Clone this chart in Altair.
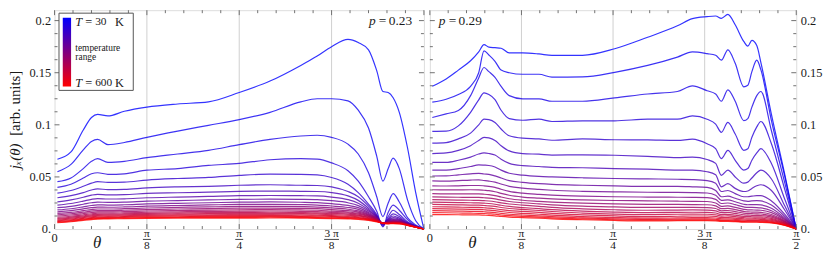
import altair as alt
import pandas as pd

# ---------------- data ----------------
TEMPS = [30, 57, 84, 111, 139, 166, 193, 220, 247, 274, 301,
         329, 356, 383, 410, 437, 464, 491, 519, 546, 573, 600]

# angles in degrees (90 deg = pi/2)
THETA_L = [0.7, 4, 7, 9, 10.5, 13, 17, 22.5, 30, 37.5, 45, 52.5, 60, 64,
           67.5, 71.5, 74, 76.5, 78.5, 80, 81.3, 82.5, 84, 86, 88, 90]

J_L = [
    [0.067, 0.074, 0.095, 0.107, 0.110, 0.1085, 0.113, 0.117, 0.120, 0.122, 0.131, 0.142, 0.157, 0.166, 0.175, 0.182, 0.179, 0.172, 0.152, 0.132, 0.131, 0.126, 0.112, 0.078, 0.035, 0.0],
    [0.055, 0.062, 0.076, 0.084, 0.086, 0.081, 0.083, 0.088, 0.094, 0.0995, 0.105, 0.112, 0.122, 0.125, 0.125, 0.123, 0.114, 0.097, 0.070, 0.046, 0.058, 0.068, 0.058, 0.028, 0.008, 0.0],
    [0.0455, 0.049, 0.058, 0.065, 0.0675, 0.064, 0.065, 0.0685, 0.072, 0.0755, 0.081, 0.086, 0.0893, 0.090, 0.088, 0.0815, 0.072, 0.054, 0.031, 0.012, 0.025, 0.034, 0.026, 0.011, 0.004, 0.0],
    [0.040, 0.043, 0.049, 0.053, 0.054, 0.0525, 0.053, 0.0565, 0.058, 0.061, 0.063, 0.0665, 0.0675, 0.067, 0.0635, 0.056, 0.046, 0.031, 0.017, 0.002, 0.016, 0.023, 0.018, 0.009, 0.003, 0.0],
    [0.0345, 0.037, 0.041, 0.044, 0.0455, 0.0448, 0.045, 0.047, 0.0485, 0.0495, 0.0515, 0.0527, 0.0525, 0.052, 0.0495, 0.043, 0.035, 0.024, 0.014, 0.003, 0.012, 0.018, 0.014, 0.007, 0.003, 0.0],
    [0.030, 0.032, 0.035, 0.0375, 0.0385, 0.0378, 0.038, 0.0395, 0.0405, 0.041, 0.042, 0.0425, 0.042, 0.0418, 0.0405, 0.036, 0.031, 0.022, 0.013, 0.004, 0.010, 0.0145, 0.012, 0.0062, 0.0028, 0.0],
    [0.026, 0.028, 0.0305, 0.0325, 0.0333, 0.0328, 0.033, 0.0342, 0.0348, 0.0354, 0.0361, 0.0364, 0.0362, 0.036, 0.035, 0.0318, 0.0275, 0.020, 0.0125, 0.0045, 0.009, 0.0125, 0.0105, 0.0058, 0.0026, 0.0],
    [0.023, 0.0245, 0.0268, 0.0285, 0.0292, 0.0288, 0.029, 0.030, 0.0307, 0.0313, 0.032, 0.0322, 0.032, 0.0318, 0.0307, 0.0282, 0.0248, 0.0185, 0.012, 0.005, 0.0085, 0.011, 0.0095, 0.0055, 0.0025, 0.0],
    [0.0205, 0.0218, 0.0238, 0.0252, 0.0258, 0.0256, 0.0258, 0.0267, 0.0273, 0.0279, 0.0285, 0.0287, 0.0285, 0.0282, 0.0272, 0.0252, 0.0225, 0.0172, 0.0115, 0.0052, 0.008, 0.0098, 0.0088, 0.0052, 0.0024, 0.0],
    [0.0183, 0.0195, 0.0213, 0.0226, 0.0232, 0.023, 0.0233, 0.0241, 0.0247, 0.0252, 0.0258, 0.026, 0.0257, 0.0253, 0.0243, 0.0227, 0.0205, 0.016, 0.011, 0.0054, 0.0076, 0.009, 0.0082, 0.005, 0.0023, 0.0],
    [0.0165, 0.0176, 0.0193, 0.0205, 0.021, 0.0209, 0.0212, 0.022, 0.0226, 0.0231, 0.0236, 0.0237, 0.0234, 0.023, 0.0221, 0.0207, 0.0189, 0.015, 0.0105, 0.0055, 0.0072, 0.0084, 0.0077, 0.0048, 0.0022, 0.0],
    [0.015, 0.016, 0.0176, 0.0187, 0.0192, 0.0192, 0.0195, 0.0202, 0.0208, 0.0213, 0.0217, 0.0218, 0.0215, 0.0211, 0.0203, 0.019, 0.0175, 0.0141, 0.0101, 0.0056, 0.0069, 0.0079, 0.0073, 0.0046, 0.0021, 0.0],
    [0.0137, 0.0147, 0.0162, 0.0172, 0.0177, 0.0177, 0.018, 0.0187, 0.0192, 0.0196, 0.020, 0.0201, 0.0198, 0.0195, 0.0187, 0.0176, 0.0163, 0.0133, 0.0097, 0.0057, 0.0066, 0.0075, 0.007, 0.0045, 0.0021, 0.0],
    [0.0125, 0.0135, 0.0149, 0.0159, 0.0164, 0.0164, 0.0167, 0.0173, 0.0178, 0.0182, 0.0185, 0.0186, 0.0183, 0.018, 0.0172, 0.0163, 0.0152, 0.0126, 0.0093, 0.0057, 0.0064, 0.0071, 0.0067, 0.0043, 0.002, 0.0],
    [0.0113, 0.0123, 0.0137, 0.0147, 0.0152, 0.0152, 0.0155, 0.0161, 0.0166, 0.0169, 0.0172, 0.0173, 0.017, 0.0167, 0.016, 0.0152, 0.0143, 0.012, 0.009, 0.0057, 0.0062, 0.0068, 0.0064, 0.0042, 0.002, 0.0],
    [0.0103, 0.0113, 0.0127, 0.0136, 0.0141, 0.0142, 0.0145, 0.015, 0.0155, 0.0158, 0.016, 0.0161, 0.0158, 0.0155, 0.0149, 0.0142, 0.0134, 0.0114, 0.0087, 0.0057, 0.006, 0.0065, 0.0062, 0.0041, 0.0019, 0.0],
    [0.0094, 0.0104, 0.0118, 0.0127, 0.0132, 0.0133, 0.0136, 0.0141, 0.0145, 0.0148, 0.015, 0.015, 0.0148, 0.0145, 0.0139, 0.0133, 0.0126, 0.0108, 0.0084, 0.0057, 0.0058, 0.0062, 0.006, 0.004, 0.0019, 0.0],
    [0.0086, 0.0096, 0.011, 0.0118, 0.0123, 0.0124, 0.0127, 0.0131, 0.0135, 0.0137, 0.0138, 0.0139, 0.0137, 0.0134, 0.0129, 0.0124, 0.0118, 0.0102, 0.0081, 0.0057, 0.0057, 0.006, 0.0058, 0.0039, 0.0018, 0.0],
    [0.0079, 0.0089, 0.0102, 0.011, 0.0115, 0.0116, 0.0119, 0.0123, 0.0126, 0.0128, 0.0128, 0.0129, 0.0127, 0.0125, 0.0121, 0.0116, 0.0111, 0.0097, 0.0078, 0.0057, 0.0055, 0.0058, 0.0056, 0.0038, 0.0018, 0.0],
    [0.0072, 0.0082, 0.0095, 0.0103, 0.0108, 0.0109, 0.0112, 0.0116, 0.0118, 0.012, 0.012, 0.0121, 0.0119, 0.0117, 0.0114, 0.0109, 0.0105, 0.0092, 0.0075, 0.0056, 0.0054, 0.0056, 0.0054, 0.0037, 0.0018, 0.0],
    [0.0066, 0.0076, 0.0089, 0.0097, 0.0102, 0.0103, 0.0106, 0.0109, 0.0111, 0.0112, 0.0112, 0.0113, 0.0112, 0.011, 0.0107, 0.0103, 0.0099, 0.0088, 0.0072, 0.0055, 0.0052, 0.0054, 0.0052, 0.0036, 0.0017, 0.0],
    [0.006, 0.007, 0.0083, 0.0091, 0.0096, 0.0097, 0.01, 0.0103, 0.0105, 0.0105, 0.0105, 0.0106, 0.0105, 0.0103, 0.01, 0.0097, 0.0093, 0.0083, 0.0069, 0.0054, 0.005, 0.0052, 0.005, 0.0035, 0.0017, 0.0],
]

THETA_R = [0.6, 4, 7, 10, 12, 13.3, 14.5, 16, 17.5, 19.5, 22.8, 26.8, 30, 37.5,
           45.4, 53.5, 60.8, 64.5, 68.1, 70.2, 71.6, 73.2, 75, 77.1, 78.1, 79.1,
           80.3, 81.3, 83.9, 87.2, 90]

J_R = [
    [0.137, 0.144, 0.1525, 0.1615, 0.170, 0.177, 0.1745, 0.174, 0.1735, 0.169, 0.169, 0.168, 0.1667, 0.1667, 0.173, 0.184, 0.195, 0.2019, 0.2038, 0.2044, 0.2022, 0.206, 0.196, 0.180, 0.1755, 0.181, 0.176, 0.160, 0.110, 0.052, 0.0],
    [0.1217, 0.1245, 0.129, 0.137, 0.150, 0.171, 0.167, 0.161, 0.1525, 0.150, 0.1485, 0.1485, 0.1457, 0.146, 0.1504, 0.157, 0.165, 0.170, 0.1683, 0.1667, 0.162, 0.172, 0.159, 0.1365, 0.138, 0.151, 0.162, 0.153, 0.104, 0.050, 0.0],
    [0.107, 0.1105, 0.1138, 0.128, 0.145, 0.155, 0.151, 0.1455, 0.1368, 0.128, 0.1249, 0.1249, 0.1226, 0.1226, 0.1258, 0.1296, 0.132, 0.1374, 0.1327, 0.1296, 0.1226, 0.1336, 0.1226, 0.104, 0.106, 0.117, 0.128, 0.132, 0.0943, 0.044, 0.0],
    [0.0938, 0.094, 0.099, 0.112, 0.124, 0.1306, 0.129, 0.1242, 0.114, 0.106, 0.1044, 0.1054, 0.1032, 0.1038, 0.1038, 0.1054, 0.1054, 0.1085, 0.1054, 0.1007, 0.0928, 0.1023, 0.0912, 0.0755, 0.077, 0.088, 0.098, 0.1032, 0.0818, 0.0377, 0.0],
    [0.0824, 0.083, 0.0865, 0.092, 0.1, 0.1054, 0.105, 0.1023, 0.096, 0.0895, 0.0872, 0.0865, 0.0852, 0.0865, 0.0857, 0.0855, 0.085, 0.0862, 0.0818, 0.0771, 0.0676, 0.0755, 0.066, 0.0566, 0.058, 0.066, 0.073, 0.0771, 0.0629, 0.0283, 0.0],
    [0.0724, 0.073, 0.0755, 0.080, 0.085, 0.088, 0.0875, 0.085, 0.080, 0.075, 0.0724, 0.0718, 0.071, 0.0712, 0.0708, 0.0698, 0.0686, 0.069, 0.0667, 0.063, 0.0515, 0.0566, 0.050, 0.044, 0.045, 0.049, 0.054, 0.0566, 0.048, 0.022, 0.0],
    [0.0639, 0.064, 0.066, 0.069, 0.072, 0.073, 0.0725, 0.071, 0.067, 0.063, 0.0608, 0.060, 0.0592, 0.0588, 0.058, 0.0575, 0.0566, 0.0565, 0.055, 0.052, 0.0405, 0.0435, 0.039, 0.036, 0.0365, 0.039, 0.0415, 0.0425, 0.037, 0.018, 0.0],
    [0.0566, 0.0566, 0.058, 0.060, 0.0615, 0.0613, 0.061, 0.0595, 0.0565, 0.0535, 0.0517, 0.0505, 0.050, 0.0492, 0.0485, 0.0481, 0.0478, 0.0475, 0.0465, 0.044, 0.036, 0.037, 0.034, 0.031, 0.031, 0.0315, 0.032, 0.032, 0.027, 0.014, 0.0],
    [0.0509, 0.051, 0.052, 0.053, 0.0535, 0.0528, 0.0525, 0.051, 0.049, 0.0465, 0.0448, 0.0435, 0.0428, 0.042, 0.0414, 0.0409, 0.0409, 0.0405, 0.0399, 0.037, 0.031, 0.0315, 0.0295, 0.027, 0.0265, 0.027, 0.0272, 0.027, 0.023, 0.012, 0.0],
    [0.0462, 0.046, 0.0465, 0.047, 0.0472, 0.0466, 0.046, 0.045, 0.0432, 0.041, 0.0392, 0.038, 0.0372, 0.0362, 0.0357, 0.0353, 0.0352, 0.035, 0.0346, 0.0325, 0.0275, 0.028, 0.0262, 0.0238, 0.0233, 0.0235, 0.0235, 0.0232, 0.020, 0.0105, 0.0],
    [0.0415, 0.0413, 0.0415, 0.0418, 0.0418, 0.0415, 0.041, 0.040, 0.0382, 0.0362, 0.0344, 0.0333, 0.0326, 0.0316, 0.031, 0.0307, 0.0305, 0.0304, 0.0302, 0.0285, 0.0245, 0.025, 0.0234, 0.0212, 0.0207, 0.0207, 0.0206, 0.0203, 0.0176, 0.0095, 0.0],
    [0.0377, 0.0375, 0.0376, 0.0377, 0.0376, 0.0372, 0.0368, 0.0358, 0.0342, 0.0324, 0.0307, 0.0297, 0.029, 0.028, 0.0274, 0.0271, 0.0267, 0.0266, 0.0264, 0.025, 0.0218, 0.0222, 0.0208, 0.0189, 0.0184, 0.0183, 0.0182, 0.018, 0.0157, 0.0086, 0.0],
    [0.034, 0.0338, 0.0338, 0.0338, 0.0337, 0.0334, 0.033, 0.0321, 0.0307, 0.0291, 0.0276, 0.0266, 0.0259, 0.0248, 0.0241, 0.0237, 0.0236, 0.0235, 0.0233, 0.0222, 0.0195, 0.0198, 0.0186, 0.0169, 0.0164, 0.0163, 0.0162, 0.016, 0.014, 0.0078, 0.0],
    [0.0308, 0.0306, 0.0305, 0.0304, 0.0303, 0.03, 0.0297, 0.0289, 0.0277, 0.0264, 0.0252, 0.0241, 0.0232, 0.0219, 0.0212, 0.0207, 0.0207, 0.0207, 0.0206, 0.0197, 0.0175, 0.0178, 0.0167, 0.0152, 0.0148, 0.0147, 0.0146, 0.0144, 0.0126, 0.0071, 0.0],
    [0.0283, 0.028, 0.0278, 0.0276, 0.0275, 0.0272, 0.0269, 0.0262, 0.0251, 0.024, 0.023, 0.0218, 0.0208, 0.0194, 0.0185, 0.018, 0.0182, 0.0183, 0.0182, 0.0175, 0.0157, 0.0159, 0.015, 0.0137, 0.0133, 0.0132, 0.0131, 0.013, 0.0114, 0.0065, 0.0],
    [0.0258, 0.0256, 0.0254, 0.0252, 0.0251, 0.0248, 0.0245, 0.0238, 0.0228, 0.0217, 0.0206, 0.0195, 0.0186, 0.0172, 0.0163, 0.0158, 0.016, 0.0161, 0.016, 0.0154, 0.0139, 0.0141, 0.0133, 0.0122, 0.0119, 0.0118, 0.0117, 0.0116, 0.0102, 0.0059, 0.0],
    [0.0236, 0.0234, 0.0232, 0.023, 0.0229, 0.0226, 0.0223, 0.0217, 0.0207, 0.0197, 0.0189, 0.0178, 0.0168, 0.0153, 0.0143, 0.0138, 0.0142, 0.0143, 0.0142, 0.0137, 0.0124, 0.0126, 0.0119, 0.0109, 0.0106, 0.0106, 0.0105, 0.0104, 0.0092, 0.0054, 0.0],
    [0.0214, 0.0212, 0.021, 0.0208, 0.0207, 0.0204, 0.0201, 0.0195, 0.0186, 0.0177, 0.017, 0.016, 0.015, 0.0136, 0.0126, 0.012, 0.0123, 0.0125, 0.0125, 0.0121, 0.011, 0.0111, 0.0105, 0.0097, 0.0095, 0.0095, 0.0094, 0.0093, 0.0083, 0.0049, 0.0],
    [0.0195, 0.0193, 0.0191, 0.0189, 0.0188, 0.0185, 0.0182, 0.0176, 0.0168, 0.0159, 0.0151, 0.0142, 0.0133, 0.012, 0.011, 0.0104, 0.0107, 0.0109, 0.0109, 0.0106, 0.0097, 0.0098, 0.0093, 0.0086, 0.0084, 0.0084, 0.0084, 0.0083, 0.0074, 0.0044, 0.0],
    [0.0176, 0.0174, 0.0172, 0.017, 0.0169, 0.0166, 0.0163, 0.0158, 0.015, 0.0142, 0.0135, 0.0127, 0.0119, 0.0107, 0.0098, 0.0093, 0.0095, 0.0097, 0.0097, 0.0094, 0.0087, 0.0087, 0.0083, 0.0077, 0.0076, 0.0076, 0.0076, 0.0075, 0.0067, 0.004, 0.0],
    [0.0158, 0.0156, 0.0154, 0.0152, 0.0151, 0.0149, 0.0146, 0.0142, 0.0135, 0.0128, 0.0122, 0.0115, 0.0108, 0.0097, 0.0089, 0.0085, 0.0087, 0.0088, 0.0088, 0.0086, 0.008, 0.008, 0.0076, 0.0071, 0.007, 0.007, 0.007, 0.0069, 0.0062, 0.0037, 0.0],
    [0.0139, 0.0138, 0.0137, 0.0136, 0.0135, 0.0133, 0.0131, 0.0127, 0.0121, 0.0115, 0.011, 0.0104, 0.0098, 0.0089, 0.0082, 0.0078, 0.008, 0.0081, 0.0081, 0.0079, 0.0074, 0.0074, 0.0071, 0.0066, 0.0065, 0.0065, 0.0065, 0.0064, 0.0058, 0.0035, 0.0],
]

P_TEXT = ["0.23", "0.29"]
Y_LABELS = [0, 0.05, 0.1, 0.15, 0.2]
X_GRID = [22.5, 45, 67.5]
X_MAJOR = [0, 22.5, 45, 67.5, 90]
X_MINOR = [4.5, 9, 13.5, 18, 27, 31.5, 36, 40.5, 49.5, 54, 58.5, 63, 72, 76.5, 81, 85.5]
Y_MAJOR = [0.05, 0.1, 0.15, 0.2]
Y_MINOR = [0.0125, 0.025, 0.0375, 0.0625, 0.075, 0.0875, 0.1125, 0.125,
           0.1375, 0.1625, 0.175, 0.1875]
FRAC_T = [22.5, 45, 67.5, 90]
FRAC_NUM = ["π", "π", "3 π", "π"]
FRAC_DEN = ["8", "4", "8", "2"]

# ---------------- styling ----------------
SERIF = "Liberation Serif"
FRAME = "#707070"
TXT = "#1a1a1a"
H = 221
YMAX = 0.21
W_L, W_R = 373, 370


def long_df(theta, curves):
    rows = []
    for T, vals in zip(TEMPS, curves):
        assert len(vals) == len(theta), (T, len(vals), len(theta))
        for t, v in zip(theta, vals):
            rows.append({"theta": t, "j": v, "T": T})
    return pd.DataFrame(rows)


def one_row():
    return pd.DataFrame({"k": [0]})


def label(text, x, y, size=12.5, style="normal", align="left", angle=0):
    return alt.Chart(one_row()).mark_text(
        text=text, font=SERIF, fontSize=size, fontStyle=style, align=align,
        baseline="middle", angle=angle, color=TXT,
    ).encode(x=alt.value(x), y=alt.value(y))


def panel(theta, curves, width, p_text, p_x, y_orient, n_frac, first):
    xs = alt.Scale(domain=[0, 90], nice=False, zero=False)
    ys = alt.Scale(domain=[0, YMAX], nice=False)
    y_axis = alt.Axis(
        orient=y_orient, values=Y_LABELS,
        labelExpr="datum.value == 0 ? '0.' : format(datum.value, '.2~f')",
        ticks=False, domain=False, grid=False, title=None,
        labelFont=SERIF, labelFontSize=12.5, labelColor=TXT, labelPadding=4)

    def X(f):
        return alt.X(f, type="quantitative", scale=xs, axis=None)

    def Y(f):
        return alt.Y(f, type="quantitative", scale=ys, axis=y_axis)

    layers = []
    layers.append(alt.Chart(pd.DataFrame({"t": X_GRID})).mark_rule(
        color="#cfcfcf", strokeWidth=1).encode(x=X("t")))

    layers.append(alt.Chart(long_df(theta, curves)).mark_line(
        strokeWidth=1.2, opacity=0.8, interpolate="monotone").encode(
        x=X("theta"),
        y=Y("j"),
        color=alt.Color("T:Q", scale=alt.Scale(
            domain=[30, 600], range=["#0000ff", "#ff0000"], interpolate="rgb"),
            legend=None),
    ))

    # inward frame ticks
    xmaj = pd.DataFrame({"t": X_MAJOR})
    xmin = pd.DataFrame({"t": X_MINOR})
    ymaj = pd.DataFrame({"v": Y_MAJOR})
    ymin = pd.DataFrame({"v": Y_MINOR})
    for df, ln in ((xmaj, 5), (xmin, 3)):
        layers.append(alt.Chart(df).mark_rule(color=FRAME).encode(
            x=X("t"), y=alt.value(H), y2=alt.value(H - ln)))
        layers.append(alt.Chart(df).mark_rule(color=FRAME).encode(
            x=X("t"), y=alt.value(0), y2=alt.value(ln)))
    for df, ln in ((ymaj, 5), (ymin, 3)):
        layers.append(alt.Chart(df).mark_rule(color=FRAME).encode(
            y=Y("v"), x=alt.value(0), x2=alt.value(ln)))
        layers.append(alt.Chart(df).mark_rule(color=FRAME).encode(
            y=Y("v"), x=alt.value(width), x2=alt.value(width - ln)))

    # x tick labels
    layers.append(alt.Chart(pd.DataFrame({"t": [0], "s": ["0"]})).mark_text(
        font=SERIF, fontSize=12.5, color=TXT, baseline="middle").encode(
        x=X("t"), y=alt.value(H + 9), text="s:N"))
    fr = pd.DataFrame({"t": FRAC_T[:n_frac], "num": FRAC_NUM[:n_frac],
                       "den": FRAC_DEN[:n_frac]})
    layers.append(alt.Chart(fr).mark_text(
        font=SERIF, fontSize=11.5, color=TXT, baseline="middle").encode(
        x=X("t"), y=alt.value(H + 5), text="num:N"))
    layers.append(alt.Chart(fr).mark_text(
        font=SERIF, fontSize=11.5, color=TXT, baseline="middle").encode(
        x=X("t"), y=alt.value(H + 17.5), text="den:N"))
    narrow = fr[fr["num"] == "π"]
    wide = fr[fr["num"] != "π"]
    layers.append(alt.Chart(narrow).mark_rule(
        color=TXT, strokeWidth=0.8, xOffset=-4, x2Offset=4).encode(
        x=X("t"), x2=alt.X2("t"), y=alt.value(H + 10.5)))
    layers.append(alt.Chart(wide).mark_rule(
        color=TXT, strokeWidth=0.8, xOffset=-7.5, x2Offset=7.5).encode(
        x=X("t"), x2=alt.X2("t"), y=alt.value(H + 10.5)))
    layers.append(label("θ", 43, H + 14, size=17, style="italic", align="center"))

    # p label
    layers.append(label("p", p_x, 11, size=13.5, style="italic"))
    layers.append(label("=", p_x + 10, 11, size=13.5))
    layers.append(label(p_text, p_x + 20, 11, size=13.5))

    if first:
        # legend box
        layers.append(alt.Chart(one_row()).mark_rect(
            fill="white", stroke="#555555", strokeWidth=1).encode(
            x=alt.value(4.5), x2=alt.value(79.5), y=alt.value(3), y2=alt.value(81)))
        grad = alt.LinearGradient(
            gradient="linear",
            stops=[alt.GradientStop(offset=0, color="#0000ff"),
                   alt.GradientStop(offset=1, color="#ff0000")],
            x1=0, x2=0, y1=0, y2=1)
        layers.append(alt.Chart(one_row()).mark_rect(fill=grad, strokeWidth=0).encode(
            x=alt.value(8.3), x2=alt.value(16.7), y=alt.value(7.7), y2=alt.value(77)))
        for yy, num in ((11.5, "30"), (73.5, "600")):
            layers.append(label("T", 21, yy, size=12.5, style="italic"))
            layers.append(label("=", 31, yy, size=12.5))
            layers.append(label(num, 41, yy, size=11.5))
            layers.append(label("K", 61, yy, size=12.5))
        layers.append(label("temperature", 21, 38, size=9.5))
        layers.append(label("range", 21, 47, size=9.5))
        # y title
        layers.append(label("jₓ(θ)", -39.5, 147.5, size=15, style="italic",
                            align="center", angle=270))
        layers.append(label("[arb. units]", -39.5, 94, size=15,
                            align="center", angle=270))

    return alt.layer(*layers).properties(width=width, height=H)


left = panel(THETA_L, J_L, W_L, P_TEXT[0], 317.5, "left", 3, True)
right = panel(THETA_R, J_R, W_R, P_TEXT[1], 9, "right", 4, False)

chart = alt.HConcatChart(
    hconcat=[left, right], spacing=6, bounds="flush",
    padding={"left": 0, "top": 0, "right": 0, "bottom": 0},
).configure_view(stroke=FRAME, strokeWidth=1).configure(background="white")

chart.save("out.html", embed_options={"renderer": "svg", "actions": False})
